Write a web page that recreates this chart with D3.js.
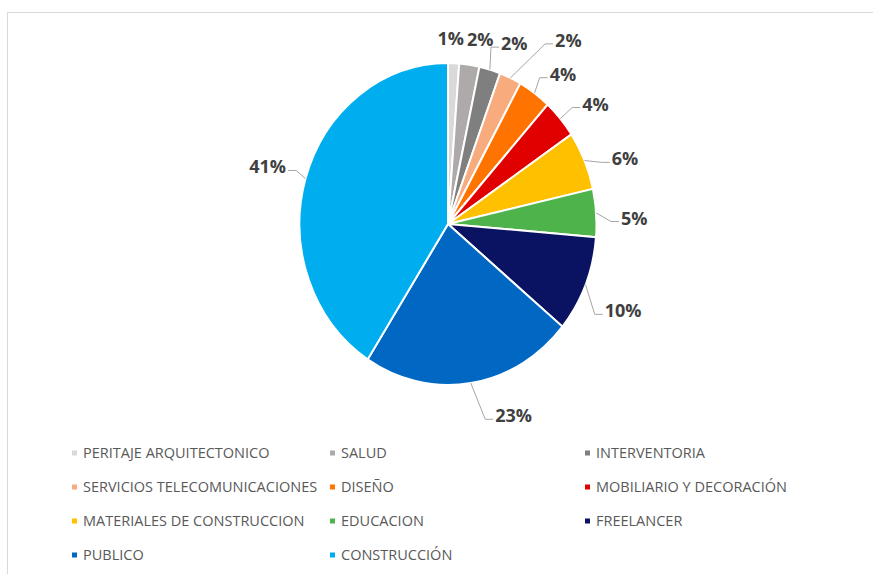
<!DOCTYPE html>
<html>
<head>
<meta charset="utf-8">
<script src="https://cdn.jsdelivr.net/npm/d3@7"></script>
<style>
  body { margin: 0; background: #fff; }
  svg { display: block; }
</style>
</head>
<body>
<div id="chart"></div>
<script>
const categories = ['PERITAJE ARQUITECTONICO', 'SALUD', 'INTERVENTORIA', 'SERVICIOS TELECOMUNICACIONES', 'DISEÑO',
  'MOBILIARIO Y DECORACIÓN', 'MATERIALES DE CONSTRUCCION', 'EDUCACION', 'FREELANCER', 'PUBLICO', 'CONSTRUCCIÓN']
const values = [1.2, 2.2, 2.3, 2.4, 3.6, 3.9, 5.9, 4.8, 9.7, 23.1, 40.9]
const colors = ['#d9d9d9', '#aeaaaa', '#7f7f7f', '#f8ab7c', '#ff7300', '#e00000', '#ffc000', '#4db34a', '#0a1361', '#0068c3', '#00aeef']

// excel moves the labels around a bit, nudge ours the same way
const labelShift = {
  'PERITAJE ARQUITECTONICO': [-4, -2],
  'SALUD': [6, -2],
  'INTERVENTORIA': [15, -4],
  'SERVICIOS TELECOMUNICACIONES': [44, -17],
  'DISEÑO': [9, -1],
  'MOBILIARIO Y DECORACIÓN': [10, -1],
  'MATERIALES DE CONSTRUCCION': [10, 5],
  'EDUCACION': [5, 3],
  'FREELANCER': [2, 12],
  'PUBLICO': [37, 2],
  'CONSTRUCCIÓN': [-1, -8]
}
const noLeader = ['PERITAJE ARQUITECTONICO', 'SALUD']

const width = 873, height = 574
const cx = 448, cy = 224, rx = 148.5, ry = 161

const data = categories.map((c, i) => ({ name: c, value: values[i], color: colors[i] }))
const total = d3.sum(values)

const svg = d3.select('#chart').append('svg')
  .attr('width', width)
  .attr('height', height)

// chart frame, runs off the right and bottom of the shot
svg.append('rect')
  .attr('x', 7.5).attr('y', 12.5)
  .attr('width', width + 20).attr('height', height + 20)
  .attr('fill', '#fff')
  .attr('stroke', '#d9d9d9')

const pie = d3.pie().sort(null).value(d => d.value)
const arcs = pie(data)
const arc = d3.arc().innerRadius(0).outerRadius(rx)

svg.append('g')
  .attr('transform', `translate(${cx},${cy}) scale(1,${ry / rx})`)
  .selectAll('path')
  .data(arcs)
  .join('path')
    .attr('d', arc)
    .attr('fill', d => d.data.color)
    .attr('stroke', '#fff')
    .attr('stroke-width', 2)
    .attr('vector-effect', 'non-scaling-stroke')

const gLabels = svg.append('g')
const gLeaders = svg.append('g')
  .attr('fill', 'none')
  .attr('stroke', '#a6a6a6')
  .attr('stroke-width', 1)

arcs.forEach(d => {
  const a = (d.startAngle + d.endAngle) / 2
  const ux = Math.sin(a), uy = -Math.cos(a)
  const px = cx + rx * ux, py = cy + ry * uy

  const t = gLabels.append('text')
    .attr('text-anchor', 'middle')
    .attr('font-family', '"Open Sans", sans-serif')
    .attr('font-weight', 700)
    .attr('font-size', 18)
    .attr('fill', '#404040')
    .text(Math.round(d.data.value / total * 100) + '%')

  const w = t.node().getComputedTextLength(), h = 14, gap = 20
  const shift = labelShift[d.data.name] || [0, 0]
  const lx = px + ux * (gap + w / 2) + shift[0]
  const ly = py + uy * (gap + h / 2) + 4 + shift[1]
  const base = ly + 6.5
  t.attr('x', lx).attr('y', base)

  if (noLeader.includes(d.data.name)) return
  const side = lx >= px ? 1 : -1
  const ex = lx - side * (w / 2 + 2), ey = base - 3
  const kx = ex - side * 8
  gLeaders.append('path')
    .attr('d', d3.line()([[px, py], [kx, ey], [ex, ey]]))
})

// legend, three columns
const colX = [72, 330, 585]
const rowY = 453, rowGap = 34
const legend = svg.append('g')
  .selectAll('g')
  .data(data)
  .join('g')
    .attr('transform', (d, i) => `translate(${colX[i % 3]},${rowY + Math.floor(i / 3) * rowGap})`)

legend.append('rect')
  .attr('x', 0).attr('y', -2.5)
  .attr('width', 5).attr('height', 5)
  .attr('fill', d => d.color)

legend.append('text')
  .attr('x', 11).attr('y', 5)
  .attr('font-family', '"Open Sans", sans-serif')
  .attr('font-size', 14.5)
  .attr('fill', '#595959')
  .text(d => d.name)
</script>
</body>
</html>
